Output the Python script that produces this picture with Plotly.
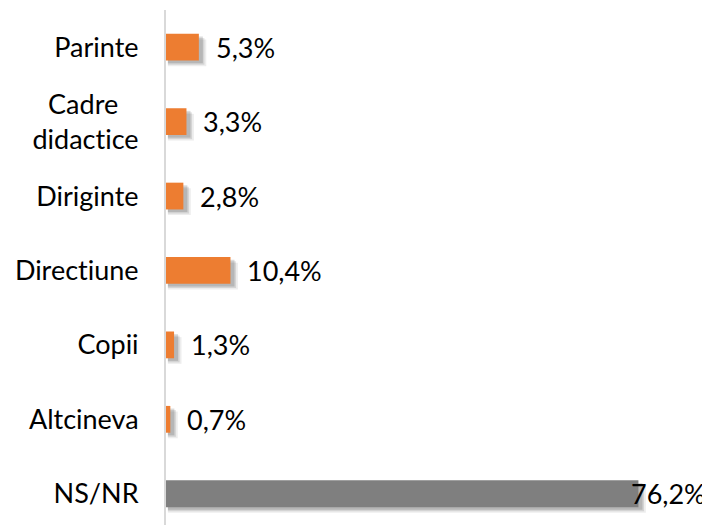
import plotly.graph_objects as go

categories = ["Parinte", "Cadre didactice", "Diriginte", "Directiune", "Copii", "Altcineva", "NS/NR"]
tick_labels = ["Parinte", "Cadre\u2002\u00a0<br>didactice", "Diriginte", "Directiune", "Copii", "Altcineva", "NS/NR"]
values = [5.3, 3.3, 2.8, 10.4, 1.3, 0.7, 76.2]
labels = ["5,3%", "3,3%", "2,8%", "10,4%", "1,3%", "0,7%", "76,2%"]
bar_colors = ["#ED7D31"] * 6 + ["#7F7F7F"]

FONT = "Lato"
BW = 0.36

# break the "ti" ligature of the font without changing the visible text
display_ticks = [t.replace("ti", "t\u200ci") for t in tick_labels]

fig = go.Figure()

# soft drop shadow layers
for dx, doff, alpha in [(0.9, 0.075, 0.07), (0.6, 0.055, 0.10), (0.35, 0.035, 0.14)]:
    fig.add_trace(go.Bar(
        y=categories, x=[v + dx for v in values], base=0.3, orientation="h",
        width=BW, offset=-BW / 2 + doff,
        marker=dict(color=f"rgba(0,0,0,{alpha})", line=dict(width=0)),
        hoverinfo="skip", showlegend=False,
    ))

fig.add_trace(go.Bar(
    y=categories, x=values, orientation="h", width=BW,
    marker=dict(color=bar_colors, line=dict(width=0)),
    showlegend=False,
))

for i, (c, v, t) in enumerate(zip(categories, values, labels)):
    shift = 15 if i < len(values) - 1 else -9
    fig.add_annotation(x=v, y=c, text=t, xanchor="left", yanchor="middle",
                       xshift=shift, showarrow=False,
                       font=dict(family=FONT, size=27, color="#000000"))

fig.update_layout(
    width=702, height=517,
    margin=dict(l=158, r=4, t=2, b=0, autoexpand=False),
    barmode="overlay",
    plot_bgcolor="white", paper_bgcolor="white",
    xaxis=dict(range=[0, 87.1], visible=False, showgrid=False, zeroline=False),
    yaxis=dict(
        type="category", range=[6.42, -0.5], showgrid=False, zeroline=False,
        showline=True, linecolor="#D9D9D9", linewidth=2,
        ticks="", ticklabelstandoff=20,
        tickvals=categories, ticktext=display_ticks,
        tickfont=dict(family=FONT, size=27, color="#000000"),
    ),
)

fig.write_html("out.html")
